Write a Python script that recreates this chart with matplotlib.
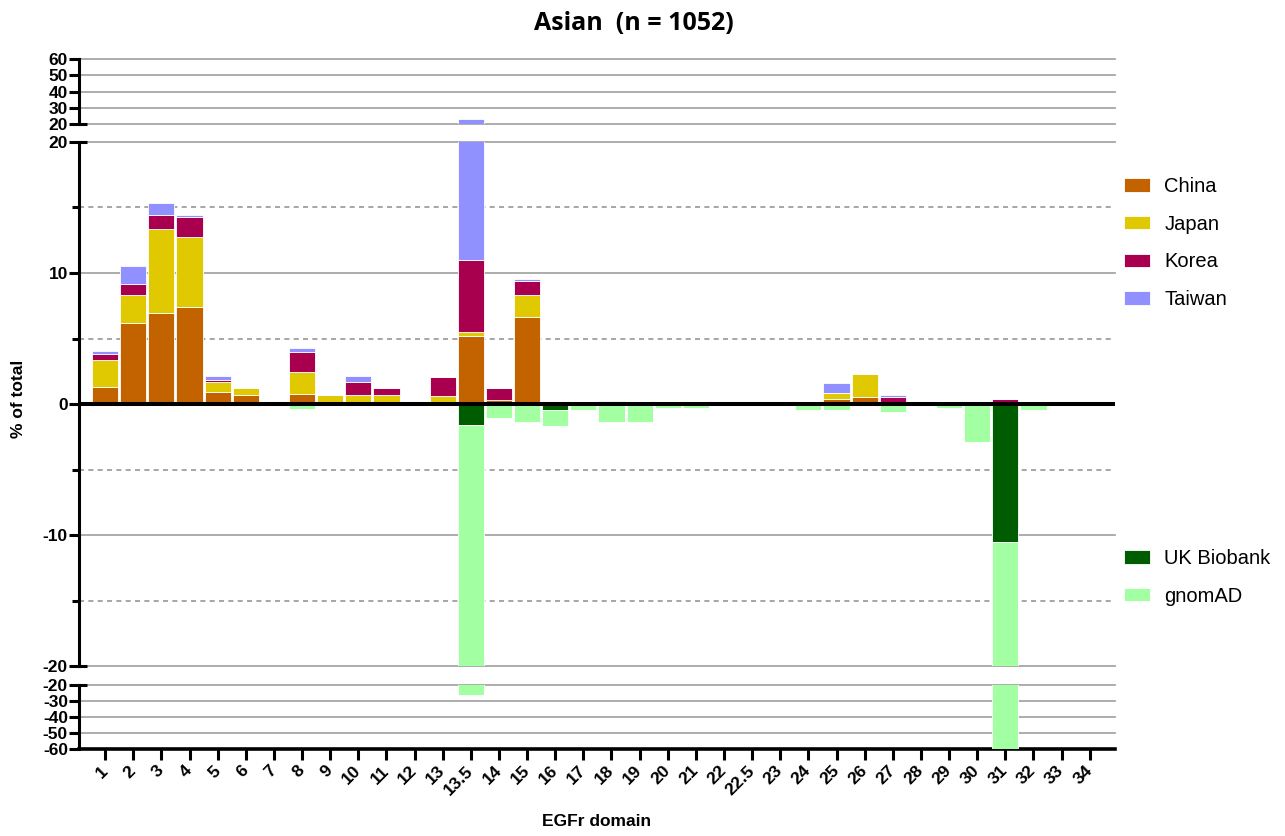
import numpy as np
import matplotlib
matplotlib.use("Agg")
import matplotlib.pyplot as plt
from matplotlib.patches import Patch

plt.rcParams['font.family'] = ['Liberation Sans', 'DejaVu Sans']
plt.rcParams['axes.unicode_minus'] = False

domains = ['1', '2', '3', '4', '5', '6', '7', '8', '9', '10', '11', '12', '13', '13.5',
           '14', '15', '16', '17', '18', '19', '20', '21', '22', '22.5', '23', '24', '25',
           '26', '27', '28', '29', '30', '31', '32', '33', '34']

#            1     2     3     4     5     6   7    8     9     10    11  12   13    13.5   14    15    16    17  18    19    20  21  22 22.5 23 24   25    26    27   28  29    30  31   32  33  34
china  = [1.27, 6.20, 6.94, 7.43, 0.92, 0.66, 0, 0.79, 0,    0,    0,    0, 0,    5.19,  0.33, 6.64, 0.12, 0, 0,    0,    0, 0, 0, 0, 0, 0, 0.38, 0.56, 0,    0, 0,    0, 0,   0, 0, 0]
japan  = [2.07, 2.10, 6.42, 5.34, 0.79, 0.59, 0, 1.69, 0.66, 0.66, 0.66, 0, 0.59, 0.28,  0,    1.66, 0.13, 0, 0,    0.25, 0, 0, 0, 0, 0, 0, 0.43, 1.73, 0,    0, 0.23, 0, 0,   0, 0, 0]
korea  = [0.46, 0.87, 1.07, 1.51, 0.15, 0,    0, 1.47, 0,    1.05, 0.59, 0, 1.47, 5.52,  0.92, 1.09, 0,    0, 0,    0,    0, 0, 0, 0, 0, 0, 0,    0,    0.55, 0, 0,    0, 0.4, 0, 0, 0]
taiwan = [0.28, 1.40, 0.90, 0.12, 0.26, 0,    0, 0.31, 0,    0.43, 0,    0, 0,    11.9,  0,    0.13, 0,    0, 0.25, 0,    0, 0, 0, 0, 0, 0, 0.77, 0,    0.12, 0, 0,    0, 0,   0, 0, 0]

uk_biobank = [0, 0, 0, 0, 0, 0, 0, 0, 0, 0, 0, 0, 0, -1.6, 0, 0, -0.46, 0, 0, 0, 0, 0, 0, 0, 0, 0, 0, 0, 0, 0, 0, 0, -10.5, 0, 0, 0]
gnomad     = [0, 0, 0, 0, 0, 0, 0, -0.37, 0, 0, 0, 0, 0, -24.9, -1.05, -1.4, -1.2, -0.45, -1.4, -1.4, -0.33, -0.33, 0, 0, 0, -0.48, -0.48, 0, -0.62, 0, -0.33, -2.87, -49.5, -0.45, 0, 0]

pos_series = [('China', china, '#C26300'), ('Japan', japan, '#E0C900'),
              ('Korea', korea, '#A8004F'), ('Taiwan', taiwan, '#9090FF')]
neg_series = [('UK Biobank', uk_biobank, '#005C00'), ('gnomAD', gnomad, '#A2FFA2')]

W, H = 1285, 836
fig = plt.figure(figsize=(W / 100, H / 100), dpi=100)

left = 79 / W
right = 1115 / W
def axrect(top_px, bot_px):
    return [left, 1 - bot_px / H, right - left, (bot_px - top_px) / H]

ax_top = fig.add_axes(axrect(59, 124))
ax_mid = fig.add_axes(axrect(142, 666))
ax_bot = fig.add_axes(axrect(685, 749))
axes = [ax_top, ax_mid, ax_bot]

x = np.arange(len(domains))
grid_c = '#A6A6A6'
spine_lw = 2.2
tick_fs = 12.5

for ax in axes:
    bottom = np.zeros(len(domains))
    for name, vals, col in pos_series:
        v = np.array(vals, dtype=float)
        ax.bar(x, v, 0.93, bottom=bottom, color=col, edgecolor='white', linewidth=0.6, zorder=3)
        bottom = bottom + v
    bottom = np.zeros(len(domains))
    for name, vals, col in neg_series:
        v = np.array(vals, dtype=float)
        ax.bar(x, v, 0.93, bottom=bottom, color=col, edgecolor='white', linewidth=0.6, zorder=3)
        bottom = bottom + v
    ax.set_xlim(-0.93, 35.9)
    for s in ['top', 'right', 'bottom']:
        ax.spines[s].set_visible(False)
    ax.spines['left'].set_linewidth(spine_lw)
    ax.tick_params(axis='y', direction='out', length=7, width=spine_lw, pad=1,
                   labelsize=tick_fs)

# top panel
ax_top.set_ylim(20, 60)
ax_top.set_yticks([20, 30, 40, 50, 60])
for yv in [20, 30, 40, 50, 60]:
    ax_top.axhline(yv, color=grid_c, lw=1.3, zorder=1, clip_on=False)

# middle panel
ax_mid.set_ylim(-20, 20)
ax_mid.set_yticks([-20, -10, 0, 10, 20])
ax_mid.set_yticks([-15, -5, 5, 15], minor=True)
ax_mid.tick_params(axis='y', which='minor', direction='out', length=5, width=spine_lw)
for yv in [-20, -10, 10, 20]:
    ax_mid.axhline(yv, color=grid_c, lw=1.3, zorder=1, clip_on=False)
for yv in [-15, -5, 5, 15]:
    ax_mid.axhline(yv, color=grid_c, lw=1.4, ls=(0, (2.6, 2.2)), zorder=1)
ax_mid.axhline(0, color='black', lw=2.9, zorder=5)

# bottom panel
ax_bot.set_ylim(-60, -20)
ax_bot.set_yticks([-60, -50, -40, -30, -20])
for yv in [-20, -30, -40, -50]:
    ax_bot.axhline(yv, color=grid_c, lw=1.3, zorder=1, clip_on=False)
ax_bot.spines['bottom'].set_visible(True)
ax_bot.spines['bottom'].set_linewidth(2.6)

for ax in [ax_top, ax_mid]:
    ax.set_xticks([])
ax_bot.set_xticks(x)
ax_bot.set_xticklabels(domains, rotation=45, ha='right', va='center',
                       rotation_mode='anchor', fontweight='bold', fontsize=tick_fs)
ax_bot.tick_params(axis='x', direction='out', length=8, width=2.2, pad=6)

for ax in axes:
    for lab in ax.get_yticklabels():
        lab.set_fontweight('bold')

# break caps on the y axis
cap = dict(color='black', lw=spine_lw, clip_on=False, solid_capstyle='butt', zorder=6)
ax_top.plot([0, 0.008], [20, 20], transform=ax_top.get_yaxis_transform(), **cap)
ax_mid.plot([0, 0.008], [20, 20], transform=ax_mid.get_yaxis_transform(), **cap)
ax_mid.plot([0, 0.008], [-20, -20], transform=ax_mid.get_yaxis_transform(), **cap)
ax_bot.plot([0, 0.008], [-20, -20], transform=ax_bot.get_yaxis_transform(), **cap)

# titles and labels
fig.text(634 / W, 1 - 24 / H, 'Asian  (n = 1052)', ha='center', va='center',
         fontsize=18, fontweight='bold', family=['Open Sans', 'DejaVu Sans'])
fig.text(19 / W, 1 - 399 / H, '% of total', rotation=90, ha='center', va='center',
         fontsize=12.5, fontweight='bold')
fig.text(597 / W, 1 - 822 / H, 'EGFr domain', ha='center', va='center',
         fontsize=12.5, fontweight='bold')

# legends
h1 = [Patch(facecolor=c, edgecolor='white', linewidth=0.6) for _, _, c in pos_series]
h2 = [Patch(facecolor=c, edgecolor='white', linewidth=0.6) for _, _, c in neg_series]
leg_kw = dict(frameon=False, fontsize=14.5, handlelength=1.3, handleheight=0.65,
              handletextpad=0.7, labelspacing=0.93, borderpad=0, borderaxespad=0,
              loc='upper left')
fig.legend(h1, [n for n, _, _ in pos_series], bbox_to_anchor=(1124 / W, 1 - 177 / H), **leg_kw)
fig.legend(h2, [n for n, _, _ in neg_series], bbox_to_anchor=(1124 / W, 1 - 549 / H), **leg_kw)

fig.savefig('out.png', dpi=100)
